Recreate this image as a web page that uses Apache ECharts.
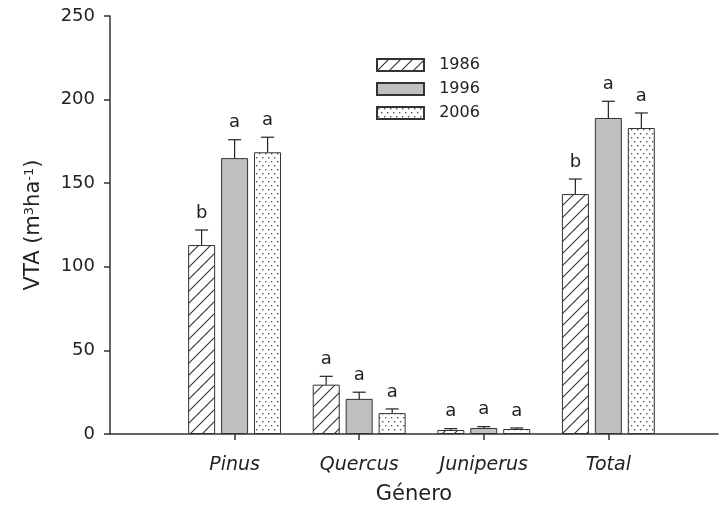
<!DOCTYPE html>
<html>
<head>
<meta charset="utf-8">
<script src="https://cdn.jsdelivr.net/npm/echarts@6/dist/echarts.min.js"></script>
<style>
  html, body { margin: 0; padding: 0; background: #fff; }
  #chart { width: 720px; height: 512px; }
</style>
</head>
<body>
<div id="chart"></div>
<script>
// datos
const categories = ['Pinus', 'Quercus', 'Juniperus', 'Total'];
const years = ['1986', '1996', '2006'];
const vta1986 = [113, 29.5, 2.4, 143.5];
const vta1996 = [165, 21, 3.6, 189];
const vta2006 = [168.5, 12.5, 3, 183];
const err1986 = [9, 5, 0.8, 9];
const err1996 = [11, 4, 0.8, 10];
const err2006 = [9, 2.5, 0.6, 9];
const letters1986 = ['b', 'a', 'a', 'b'];
const letters1996 = ['a', 'a', 'a', 'a'];
const letters2006 = ['a', 'a', 'a', 'a'];

const values = [vta1986, vta1996, vta2006];
const errors = [err1986, err1996, err2006];
const letters = [letters1986, letters1996, letters2006];

const FONT = 'DejaVu Sans';
const INK = '#222';
const BAR_W = 27;
const STEP = 33; // ancho de barra + hueco

// patrones de relleno
function hatchPattern() {
  const s = 12;
  const c = document.createElement('canvas');
  c.width = s; c.height = s;
  const g = c.getContext('2d');
  g.fillStyle = '#fff';
  g.fillRect(0, 0, s, s);
  g.strokeStyle = '#333';
  g.lineWidth = 1.1;
  g.beginPath();
  g.moveTo(0, s); g.lineTo(s, 0);
  g.moveTo(-2, 2); g.lineTo(2, -2);
  g.moveTo(s - 2, s + 2); g.lineTo(s + 2, s - 2);
  g.stroke();
  return { image: c, repeat: 'repeat' };
}

function dotPattern() {
  const c = document.createElement('canvas');
  c.width = 6; c.height = 8;
  const g = c.getContext('2d');
  g.fillStyle = '#fff';
  g.fillRect(0, 0, 6, 8);
  g.fillStyle = '#555';
  g.fillRect(1, 1, 1.4, 1.4);
  g.fillRect(4, 5, 1.4, 1.4);
  return { image: c, repeat: 'repeat' };
}

const fills = [hatchPattern(), '#c0c0c0', dotPattern()];

const barSeries = years.map((y, k) => ({
  name: y,
  type: 'bar',
  barWidth: BAR_W,
  barGap: '22%',
  data: categories.map((c, i) => [i + 1, values[k][i]]),
  itemStyle: { color: fills[k], borderColor: '#333', borderWidth: 1 },
  emphasis: { disabled: true }
}));

// barras de error y letras
const errSeries = years.map((y, k) => ({
  name: 'err' + y,
  type: 'custom',
  z: 5,
  encode: { x: 0, y: 1 },
  data: categories.map((c, i) => [i + 1, values[k][i], errors[k][i]]),
  renderItem: (params, api) => {
    const xv = api.value(0), v = api.value(1), e = api.value(2);
    const base = api.coord([xv, v]);
    const top = api.coord([xv, v + e]);
    const x = base[0] + (k - 1) * STEP;
    return {
      type: 'group',
      children: [
        { type: 'line', shape: { x1: x, y1: base[1], x2: x, y2: top[1] },
          style: { stroke: INK, lineWidth: 1.2 } },
        { type: 'line', shape: { x1: x - 6.5, y1: top[1], x2: x + 6.5, y2: top[1] },
          style: { stroke: INK, lineWidth: 1.2 } },
        { type: 'text', x: x, y: top[1] - 8,
          style: { text: letters[k][params.dataIndex], fill: INK, font: '18px "DejaVu Sans"',
                   align: 'center', verticalAlign: 'bottom' } }
      ]
    };
  }
}));

const chart = echarts.init(document.getElementById('chart'));
chart.setOption({
  animation: false,
  textStyle: { fontFamily: FONT, color: INK },
  grid: { left: 110, right: 2, top: 16, bottom: 78 },
  legend: {
    data: years,
    orient: 'vertical',
    left: 376,
    top: 57,
    padding: 0,
    icon: 'rect',
    itemWidth: 47,
    itemHeight: 12,
    itemGap: 8,
    formatter: n => '  ' + n,
    textStyle: { fontFamily: FONT, fontSize: 16, color: INK }
  },
  xAxis: {
    type: 'value',
    min: 0,
    max: 4.88,
    name: 'Género',
    nameLocation: 'middle',
    nameGap: 50,
    nameTextStyle: { fontFamily: FONT, fontSize: 21, color: INK },
    axisLine: { show: true, onZero: true, lineStyle: { color: '#333', width: 1.5 } },
    axisTick: { show: true, customValues: [1, 2, 3, 4], length: 6, lineStyle: { color: '#333', width: 1.5 } },
    axisLabel: {
      customValues: [1, 2, 3, 4],
      formatter: v => categories[Math.round(v) - 1] || '',
      fontFamily: FONT, fontSize: 19, fontStyle: 'italic', color: INK, margin: 22
    },
    splitLine: { show: false }
  },
  yAxis: {
    type: 'value',
    min: 0,
    max: 250,
    interval: 50,
    name: 'VTA (m{sup|3}ha{sup|-1})',
    nameLocation: 'middle',
    nameGap: 66,
    nameTextStyle: {
      fontFamily: FONT, fontSize: 21, color: INK,
      rich: { sup: { fontFamily: FONT, fontSize: 13, color: INK, verticalAlign: 'top' } }
    },
    axisLine: { show: true, lineStyle: { color: '#333', width: 1.5 } },
    axisTick: { show: true, length: 6, lineStyle: { color: '#333', width: 1.5 } },
    axisLabel: { fontFamily: FONT, fontSize: 18, color: INK, margin: 15 },
    splitLine: { show: false }
  },
  series: barSeries.concat(errSeries)
});
</script>
</body>
</html>
